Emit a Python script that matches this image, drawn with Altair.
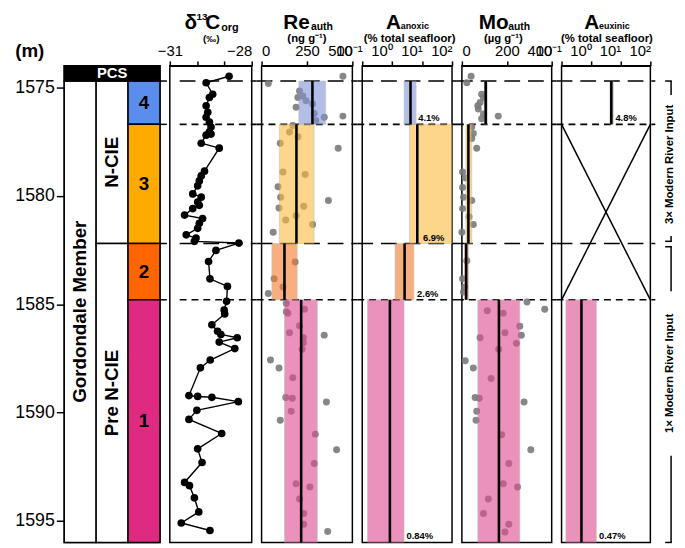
import altair as alt
import pandas as pd

FONT = "Liberation Sans"
DEPTH_DOMAIN = [1574.0, 1596.0]
H = 483

# ---------------- data ----------------
unit_label = ["4", "3", "2", "1"]
unit_top = [1574.7, 1576.7, 1582.2, 1584.8]
unit_bot = [1576.7, 1582.2, 1584.8, 1596.0]
unit_fill = ["#5B8DEF", "#FFAA00", "#FF6600", "#DE2A80"]
box_fill = ["#8293D9", "#FCBB3F", "#F57B2B", "#DE4B91"]

strat_label = ["Gordondale Member", "N-CIE", "Pre N-CIE"]
strat_top = [1574.7, 1574.7, 1582.2]
strat_bot = [1596.0, 1582.2, 1596.0]

boundary_depth = [1574.7, 1576.7, 1582.2, 1584.8]
boundary_style = ["long", "short", "long", "short"]

d13c_depth = [1574.48, 1574.78, 1575.31, 1575.46, 1575.84, 1576.14, 1576.37, 1576.60,
              1576.82, 1577.05, 1577.15, 1577.20, 1577.57, 1577.80, 1578.86, 1579.08,
              1579.31, 1579.54, 1579.91, 1580.06, 1580.29, 1580.44, 1580.59, 1580.89,
              1581.05, 1581.27, 1581.50, 1581.80, 1581.95, 1582.10, 1582.18, 1582.52,
              1583.03, 1583.83, 1584.18, 1584.87, 1585.27, 1585.45, 1585.95, 1586.25,
              1586.40, 1586.55, 1586.75, 1587.05, 1587.58, 1587.94, 1589.22, 1589.26,
              1589.30, 1589.50, 1589.90, 1590.32, 1590.97, 1591.68, 1592.31, 1593.23,
              1593.38, 1593.94, 1594.59, 1595.10, 1595.45]
d13c_val = [-28.83, -29.67, -29.43, -29.55, -29.67, -29.61, -29.67, -29.55,
            -29.49, -29.55, -29.49, -29.67, -29.85, -29.19, -29.73, -29.85,
            -29.92, -29.98, -30.16, -29.85, -29.98, -29.92, -30.16, -30.46,
            -29.80, -29.92, -29.98, -30.40, -30.04, -30.10, -28.47, -29.31,
            -29.58, -29.53, -28.89, -28.92, -29.01, -28.99, -29.46, -29.25,
            -29.13, -28.53, -29.19, -28.62, -29.52, -29.88, -30.30, -29.98,
            -29.46, -28.49, -30.01, -30.30, -29.10, -29.98, -29.82, -30.46,
            -30.28, -30.10, -29.94, -30.58, -29.53]

re_depth = [1574.81, 1574.48, 1575.16, 1575.39, 1575.46, 1575.61, 1575.91, 1575.76,
            1576.20, 1576.37, 1576.32, 1576.52, 1576.75, 1577.05, 1577.27, 1577.57,
            1577.80, 1578.90, 1579.01, 1579.58, 1580.06, 1580.21, 1580.56, 1580.48,
            1580.92, 1581.12, 1581.32, 1581.68, 1583.05, 1583.83, 1584.21, 1584.51,
            1584.97, 1585.24, 1585.35, 1585.42, 1586.00, 1586.32, 1586.43, 1586.55,
            1586.78, 1587.08, 1587.58, 1587.95, 1588.40, 1589.31, 1589.34, 1589.52,
            1589.94, 1590.36, 1591.00, 1591.72, 1592.36, 1593.29, 1593.44, 1593.99,
            1594.66, 1595.16, 1595.49]
re_val = [37, 448, 209, 227, 200, 245, 190, 281,
          290, 345, 448, 299, 172, 154, 200, 103,
          422, 118, 240, 91, 105, 368, 96, 232,
          190, 133, 281, 64, 185, 69, 118, 37,
          136, 236, 136, 145, 209, 154, 345, 230,
          230, 223, 49, 96, 172, 133, 169, 357,
          163, 103, 296, 413, 290, 190, 266, 209,
          232, 232, 364]
re_low = [205, 98, 57, 126]
re_high = [353, 289, 196, 307]
re_med = [280, 192, 126, 218]

anox_low = [2.5, 3.8, 1.25, 0.15]
anox_high = [6.3, 100, 5.3, 2.5]
anox_med = [4.1, 6.9, 2.6, 0.84]
anox_text = ["4.1%", "6.9%", "2.6%", "0.84%"]
anox_text_x = [7.4, 10.7, 6.8, 3.0]

mo_depth = [1574.48, 1574.78, 1575.31, 1575.46, 1575.69, 1575.84, 1575.99, 1576.22,
            1576.32, 1576.44, 1576.82, 1577.12, 1577.35, 1577.80, 1578.90, 1579.16,
            1579.61, 1580.06, 1580.21, 1580.59, 1580.97, 1581.32, 1581.68, 1583.00,
            1583.83, 1584.21, 1584.44, 1584.90, 1585.23, 1585.30, 1585.42, 1586.02,
            1586.32, 1586.44, 1586.55, 1586.81, 1587.08, 1587.61, 1587.95, 1588.43,
            1589.31, 1589.34, 1589.52, 1589.94, 1590.36, 1591.03, 1591.72, 1592.36,
            1593.29, 1593.44, 1593.99, 1594.66, 1595.16, 1595.52]
mo_val = [41, 22, 88, 96, 81, 71, 73, 96,
          162, 88, 44, 51, 44, 66, 3, 15,
          3, 7, 44, 3, 32, 51, 0, 22,
          3, 12, 7, 290, 369, 113, 184, 258,
          192, 265, 81, 243, 164, 15, 51, 130,
          59, 77, 277, 66, 63, 177, 307, 209,
          184, 248, 118, 96, 209, 192]
mo_low = [100, 18, 12, 71]
mo_high = [113, 44, 29, 258]
mo_med = [106, 29, 19, 165]

eux_top = [1574.7, 1584.8]
eux_bot = [1576.7, 1596.0]
eux_fill = ["#8293D9", "#DE4B91"]
eux_low = [4.3, 0.14]
eux_high = [5.6, 1.5]
eux_med = [4.8, 0.47]
eux_text = ["4.8%", "0.47%"]
eux_text_x = [6.6, 1.85]

cross_x = [0.1, 100]
cross_x2 = [100, 0.1]
cross_top = [1576.7, 1576.7]
cross_bot = [1584.8, 1584.8]

bracket_label = ["3× Modern River Input", "1× Modern River Input"]
bracket_label_depth = [1578.55, 1588.2]
bracket_seg_top = [1574.7, 1581.85, 1582.35, 1592.0]
bracket_seg_bot = [1575.35, 1582.1, 1584.4, 1596.0]
bracket_hook = [1574.7, 1582.1, 1582.35, 1596.0]

# ---------------- helpers ----------------
def Y(field, axis=None):
    return alt.Y(field, type="quantitative",
                 scale=alt.Scale(domain=DEPTH_DOMAIN, reverse=True, nice=False, zero=False),
                 axis=axis)

def Y2(field):
    return alt.Y2(field)

def txt(s, x, y, size, align="left", angle=0, color="black", baseline="alphabetic"):
    return alt.Chart(pd.DataFrame({"t": [s]})).mark_text(
        align=align, baseline=baseline, fontSize=size, fontWeight="bold",
        font=FONT, angle=angle, color=color
    ).encode(x=alt.value(x), y=alt.value(y), text="t:N")

bnd_df = pd.DataFrame({"d": boundary_depth, "s": boundary_style})

def boundaries(width, start=-5):
    return alt.Chart(bnd_df).mark_rule(color="black", strokeWidth=1.6).encode(
        x=alt.value(start), x2=alt.value(width + 5), y=Y("d:Q"),
        strokeDash=alt.StrokeDash("s:N", scale=alt.Scale(domain=["long", "short"],
                                                          range=[[16, 8], [7, 5]]), legend=None))

units_df = pd.DataFrame({"u": unit_label, "top": unit_top, "bot": unit_bot,
                         "fill": unit_fill, "box": box_fill,
                         "mid": [(a + b) / 2 for a, b in zip(unit_top, unit_bot)]})

def box_layers(xdef, low, high, med):
    df = units_df.copy()
    df["lo"] = low
    df["hi"] = high
    df["med"] = med
    boxes = alt.Chart(df).mark_rect(opacity=0.6, stroke="#999999", strokeWidth=0.6).encode(
        x=xdef("lo:Q"), x2=alt.X2("hi:Q"), y=Y("top:Q"), y2=Y2("bot:Q"),
        color=alt.Color("box:N", scale=None))
    meds = alt.Chart(df).mark_rule(color="black", strokeWidth=2.6).encode(
        x=xdef("med:Q"), y=Y("top:Q"), y2=Y2("bot:Q"))
    return boxes, meds

def dots(xdef, depth, val):
    df = pd.DataFrame({"d": depth, "v": val})
    return alt.Chart(df).mark_circle(size=50, color="#7a7a7a", opacity=0.9).encode(
        x=xdef("v:Q"), y=Y("d:Q"))

# ---------------- strat column ----------------
W_STRAT = 97
depth_axis = alt.Axis(values=[1575, 1580, 1585, 1590, 1595], format="d", labelFontSize=18,
                      tickSize=8, domain=False, title=None, labelPadding=2)
SY = lambda f: Y(f, axis=depth_axis)
strat_df = pd.DataFrame({
    "x0": [0, 1, 1] + [2] * 4 + [0],
    "x1": [1, 2, 2] + [3] * 4 + [3],
    "top": strat_top + unit_top + [1574.0],
    "bot": strat_bot + unit_bot + [1574.7],
    "fill": ["white"] * 3 + unit_fill + ["black"],
})
sx = lambda f: alt.X(f, type="quantitative", scale=alt.Scale(domain=[0, 3], nice=False), axis=None)
strat_rect = alt.Chart(strat_df).mark_rect(stroke="black", strokeWidth=1.5).encode(
    x=sx("x0"), x2=alt.X2("x1"), y=SY("top:Q"),
    y2=Y2("bot:Q"), color=alt.Color("fill:N", scale=None))
strat_text_df = pd.DataFrame({
    "t": strat_label, "x": [0.5, 1.5, 1.5],
    "d": [(a + b) / 2 for a, b in zip(strat_top, strat_bot)]})
strat_text = alt.Chart(strat_text_df).mark_text(
    angle=270, fontSize=19, fontWeight="bold", font=FONT, color="black", baseline="middle"
).encode(x=sx("x"), y=SY("d:Q"), text="t:N")
unit_text = alt.Chart(units_df).mark_text(
    fontSize=19, fontWeight="bold", font=FONT, color="black", baseline="middle"
).encode(x=alt.value(W_STRAT * 5 / 6), y=SY("mid:Q"), text="u:N")
pcs_text = alt.Chart(pd.DataFrame({"t": ["PCS"], "d": [1574.35]})).mark_text(
    fontSize=15, fontWeight="bold", font=FONT, color="white", baseline="middle"
).encode(x=alt.value(W_STRAT * 0.5), y=SY("d:Q"), text="t:N")
ext_df = pd.DataFrame({"d": boundary_depth})
ext_rules = alt.Chart(ext_df).mark_rule(color="black", strokeWidth=1.5).encode(
    x=alt.value(W_STRAT), x2=alt.value(W_STRAT + 7), y=SY("d:Q"))
m_label = txt("(m)", -35, -9, 19, align="center")
strat_panel = alt.layer(strat_rect, strat_text, unit_text, pcs_text, ext_rules, m_label).properties(
    width=W_STRAT, height=H)

# ---------------- d13C ----------------
W_D13 = 83
d13_df = pd.DataFrame({"d": d13c_depth, "v": d13c_val, "i": list(range(len(d13c_val)))})
d13_axis = alt.Axis(orient="top", values=[-31, -30, -29, -28], title=None, labelFlush=False,
                    labelExpr="datum.value == -31 || datum.value == -28 ? datum.label : ''",
                    labelAlign={"condition": {"test": "datum.value == -28", "value": "right"},
                                "value": "center"})
dx = lambda f: alt.X(f, type="quantitative",
                     scale=alt.Scale(domain=[-31, -28], nice=False, zero=False), axis=d13_axis)
d13_line = alt.Chart(d13_df).mark_line(color="black", strokeWidth=1.4).encode(
    x=dx("v:Q"), y=Y("d:Q"), order="i:Q")
d13_pts = alt.Chart(d13_df).mark_circle(size=60, color="black", opacity=1).encode(
    x=dx("v:Q"), y=Y("d:Q"))
d13_panel = alt.layer(
    boundaries(W_D13, start=10), d13_line, d13_pts,
    txt("δ", 15, -37, 21), txt("13", 27, -46, 10), txt("C", 36, -37, 21),
    txt("org", 52, -35, 11), txt("(‰)", 42, -24, 10, align="center"),
).properties(width=W_D13, height=H)

# ---------------- Re ----------------
W_RE = 92
re_axis = alt.Axis(orient="top", values=[0, 250, 500], title=None)
rx = lambda f: alt.X(f, type="quantitative", scale=alt.Scale(domain=[0, 500], nice=False), axis=re_axis)
re_boxes, re_meds = box_layers(rx, re_low, re_high, re_med)
re_panel = alt.layer(
    boundaries(W_RE), dots(rx, re_depth, re_val), re_boxes, re_meds,
    txt("Re", 22, -37, 21), txt("auth", 50, -36, 10.5), txt("(ng g⁻¹)", 46, -24, 11.5, align="center"),
).properties(width=W_RE, height=H)

# ---------------- A anoxic ----------------
W_AN = 91
log_expr = ("datum.value < 0.5 ? '10⁻¹' : datum.value < 5 ? '10⁰' : "
            "datum.value < 50 ? '10¹' : '10²'")
an_axis = alt.Axis(orient="top", values=[0.1, 1, 10, 100], title=None, labelExpr=log_expr,
                   labelAlign="right", labelFlush=False)
ax = lambda f: alt.X(f, type="quantitative", scale=alt.Scale(type="log", domain=[0.1, 100], nice=False),
                     axis=an_axis)
an_boxes, an_meds = box_layers(ax, anox_low, anox_high, anox_med)
an_lab_df = units_df.copy()
an_lab_df["lx"] = anox_text_x
an_lab_df["lt"] = anox_text
an_labels = alt.Chart(an_lab_df).mark_text(
    align="left", baseline="bottom", fontSize=9.5, fontWeight="bold", font=FONT, color="black", dy=-1
).encode(x=ax("lx:Q"), y=Y("bot:Q"), text="lt:N")
an_panel = alt.layer(
    boundaries(W_AN), an_boxes, an_meds, an_labels,
    txt("A", 24, -37, 21), txt("anoxic", 39, -37, 9), txt("(% total seafloor)", 48, -24, 11.5, align="center"),
).properties(width=W_AN, height=H)

# ---------------- Mo ----------------
W_MO = 91
mo_axis = alt.Axis(orient="top", values=[0, 200, 400], title=None)
mx = lambda f: alt.X(f, type="quantitative", scale=alt.Scale(domain=[0, 400], nice=False), axis=mo_axis)
mo_boxes, mo_meds = box_layers(mx, mo_low, mo_high, mo_med)
mo_panel = alt.layer(
    boundaries(W_MO), dots(mx, mo_depth, mo_val), mo_boxes, mo_meds,
    txt("Mo", 17, -37, 21), txt("auth", 47, -36, 10.5), txt("(µg g⁻¹)", 42, -24, 11.5, align="center"),
).properties(width=W_MO, height=H)

# ---------------- A euxinic ----------------
W_EU = 90
eu_axis = alt.Axis(orient="top", values=[0.1, 1, 10, 100], title=None, labelExpr=log_expr,
                   labelAlign="right", labelFlush=False)
ex = lambda f: alt.X(f, type="quantitative", scale=alt.Scale(type="log", domain=[0.1, 100], nice=False),
                     axis=eu_axis)
eu_df = pd.DataFrame({"top": eux_top, "bot": eux_bot, "box": eux_fill, "lo": eux_low,
                      "hi": eux_high, "med": eux_med, "lt": eux_text, "lx": eux_text_x})
eu_boxes = alt.Chart(eu_df).mark_rect(opacity=0.6, stroke="#999999", strokeWidth=0.6).encode(
    x=ex("lo:Q"), x2=alt.X2("hi:Q"), y=Y("top:Q"), y2=Y2("bot:Q"), color=alt.Color("box:N", scale=None))
eu_meds = alt.Chart(eu_df).mark_rule(color="black", strokeWidth=2.6).encode(
    x=ex("med:Q"), y=Y("top:Q"), y2=Y2("bot:Q"))
eu_labels = alt.Chart(eu_df).mark_text(
    align="left", baseline="bottom", fontSize=9.5, fontWeight="bold", font=FONT, color="black", dy=-1
).encode(x=ex("lx:Q"), y=Y("bot:Q"), text="lt:N")
cross_df = pd.DataFrame({"x": cross_x, "x2": cross_x2, "t": cross_top, "b": cross_bot})
cross = alt.Chart(cross_df).mark_rule(color="black", strokeWidth=1.5).encode(
    x=ex("x:Q"), x2=alt.X2("x2:Q"), y=Y("t:Q"), y2=Y2("b:Q"))
BX = W_EU + 21
seg_df = pd.DataFrame({"t": bracket_seg_top, "b": bracket_seg_bot})
bracket_v = alt.Chart(seg_df).mark_rule(color="black", strokeWidth=1.5).encode(
    x=alt.value(BX), y=Y("t:Q"), y2=Y2("b:Q"))
hook_df = pd.DataFrame({"d": bracket_hook})
bracket_h = alt.Chart(hook_df).mark_rule(color="black", strokeWidth=1.5).encode(
    x=alt.value(BX - 6), x2=alt.value(BX + 0.75), y=Y("d:Q"))
blab_df = pd.DataFrame({"t": bracket_label, "d": bracket_label_depth})
bracket_t = alt.Chart(blab_df).mark_text(
    angle=270, fontSize=11.5, fontWeight="bold", font=FONT, color="black", baseline="middle"
).encode(x=alt.value(BX - 1), y=Y("d:Q"), text="t:N")
eu_panel = alt.layer(
    boundaries(W_EU), cross, eu_boxes, eu_meds, eu_labels, bracket_v, bracket_h, bracket_t,
    txt("A", 23, -37, 21), txt("euxinic", 38, -37, 9), txt("(% total seafloor)", 46, -24, 11.5, align="center"),
).properties(width=W_EU, height=H)

chart = alt.hconcat(
    strat_panel, d13_panel, re_panel, an_panel, mo_panel, eu_panel, spacing=10, bounds="flush"
).properties(
    padding={"left": 6, "top": 0, "right": 0, "bottom": 0}
).configure_view(
    stroke="black", strokeWidth=1.5
).configure_axis(
    labelFont=FONT, labelFontSize=15, labelColor="black", domainColor="black",
    tickColor="black", domainWidth=1.5, tickWidth=1.5, tickSize=5, labelPadding=2, grid=False
)

chart.save("out.html", embed_options={"renderer": "svg", "actions": False})
